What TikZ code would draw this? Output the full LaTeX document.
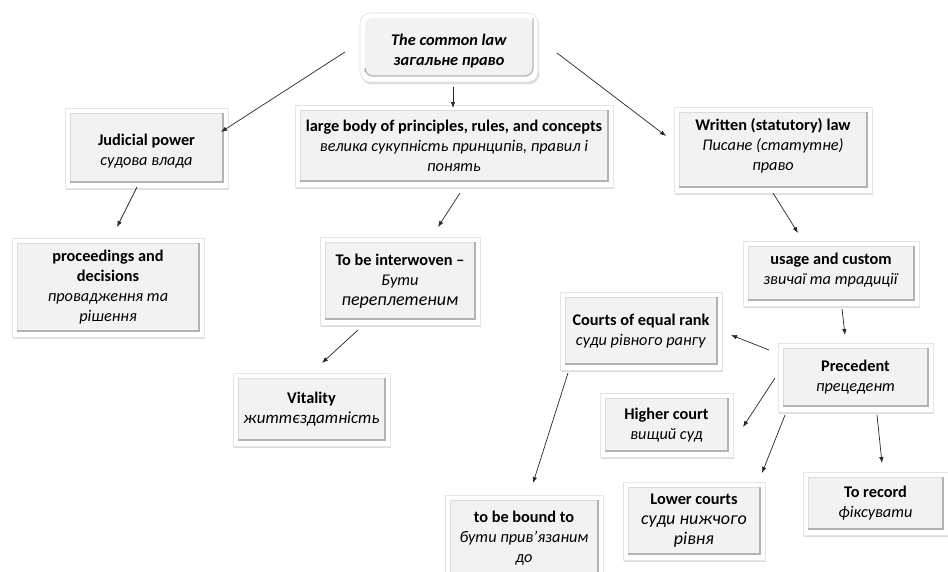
\documentclass[tikz,border=0pt]{standalone}
\usepackage{fontspec}
\setmainfont{Carlito}
\usetikzlibrary{shadows,arrows.meta}
\begin{document}
\begin{tikzpicture}[x=1pt,y=-1pt,
  bevbox/.style={rectangle, draw=black!10, line width=0.6pt, fill=white, align=center, inner sep=0pt,
    font=\fontsize{16.3}{20}\selectfont,
    drop shadow={shadow xshift=1.2pt, shadow yshift=-2.2pt, fill=black, opacity=0.14},
    path picture={
      \fill[black!5] ([xshift=5pt,yshift=6pt]path picture bounding box.south west) rectangle ([xshift=-5pt,yshift=-5pt]path picture bounding box.north east);
      \draw[black!14, line width=0.6pt] ([xshift=5pt,yshift=6pt]path picture bounding box.south west) -- ([xshift=5pt,yshift=-5pt]path picture bounding box.north west) -- ([xshift=-5pt,yshift=-5pt]path picture bounding box.north east);
      \draw[black!30, line width=1.4pt] ([xshift=5pt,yshift=6pt]path picture bounding box.south west) -- ([xshift=-5pt,yshift=6pt]path picture bounding box.south east) -- ([xshift=-5pt,yshift=-5pt]path picture bounding box.north east);
    }},
  roundbox/.style={rectangle, rounded corners=10pt, draw=black!12, line width=0.6pt, fill=white, align=center, inner sep=0pt,
    font=\fontsize{16.3}{20}\selectfont,
    drop shadow={shadow xshift=1.2pt, shadow yshift=-2.2pt, fill=black, opacity=0.14},
    path picture={
      \fill[black!5, rounded corners=8pt] ([xshift=5pt,yshift=6pt]path picture bounding box.south west) rectangle ([xshift=-5pt,yshift=-5pt]path picture bounding box.north east);
      \draw[black!28, line width=1.3pt, rounded corners=8pt] ([xshift=5pt,yshift=10pt]path picture bounding box.south west) -- ([xshift=5pt,yshift=6pt]path picture bounding box.south west) -- ([xshift=-5pt,yshift=6pt]path picture bounding box.south east) -- ([xshift=-5pt,yshift=-5pt]path picture bounding box.north east);
    }},
  txt/.style={align=center, inner sep=0pt, font=\fontsize{16.3}{20}\selectfont},
  conn/.style={draw=black!85, line width=0.7pt, -{Latex[length=6pt,width=4.5pt]}}]
\useasboundingbox (0,0) rectangle (948,571);

% boxes
\node[roundbox, minimum width=178pt, minimum height=69pt] (top) at (449,47.5) {};
\node[txt] (topt) at (449,51.5) {\textbf{\textit{The common law}}\\ \textbf{\textit{загальне право}}};
\node[bevbox, minimum width=163pt, minimum height=80pt] (jud) at (146.5,148) {};
\node[txt] (judt) at (146.5,151) {\textbf{Judicial power}\\ \textit{судова влада}};
\node[bevbox, minimum width=318pt, minimum height=82pt] (large) at (454,146) {\textbf{large body of principles, rules, and concepts}\\ \textit{велика сукупність принципів, правил і}\\ \textit{понять}};
\node[bevbox, minimum width=198pt, minimum height=86pt] (writ) at (773,150) {};
\node[txt] (writt) at (773,146) {\textbf{Written (statutory) law}\\ \textit{Писане (статутне)}\\ \textit{право}};
\node[bevbox, minimum width=192pt, minimum height=99pt] (proc) at (108,287.5) {\textbf{proceedings and}\\ \textbf{decisions}\\ \textit{провадження та}\\ \textit{рішення}};
\node[bevbox, minimum width=160pt, minimum height=88pt] (inter) at (400,281) {\textbf{To be interwoven –}\\ \textit{Бути}\\ {\fontsize{18}{20}\selectfont\textit{переплетеним}}};
\node[bevbox, minimum width=157pt, minimum height=73pt] (vit) at (311.5,409.5) {\textbf{Vitality}\\ {\fontsize{17}{20}\selectfont\textit{життєздатність}}};
\node[bevbox, minimum width=176pt, minimum height=65pt] (usage) at (831,273.5) {};
\node[txt] (usaget) at (831,270) {\textbf{usage and custom}\\ \textit{звичаї та традиції}};
\node[bevbox, minimum width=162pt, minimum height=78pt] (equal) at (641,331) {\textbf{Courts of equal rank}\\ \textit{суди рівного рангу}};
\node[bevbox, minimum width=155pt, minimum height=69pt] (prec) at (855.5,377.5) {\textbf{Precedent}\\ \textit{прецедент}};
\node[bevbox, minimum width=133pt, minimum height=64pt] (high) at (666.5,425) {\textbf{Higher court}\\ \textit{вищий суд}};
\node[bevbox, minimum width=142pt, minimum height=78pt] (low) at (694,521) {\textbf{Lower courts}\\ {\fontsize{18}{22}\selectfont\textit{суди нижчого}}\\ {\fontsize{18}{18}\selectfont\textit{рівня}}};
\node[bevbox, minimum width=145pt, minimum height=63pt] (rec) at (875.5,503.5) {\textbf{To record}\\ \textit{фіксувати}};
\node[bevbox, minimum width=158pt, minimum height=86pt] (bound) at (524,538) {\textbf{to be bound to}\\ \textit{бути прив’язаним}\\ \textit{до}};

% connector end points
\coordinate (t1s) at (345,52);  \coordinate (t1e) at (221,132);
\coordinate (t2s) at (453,87);  \coordinate (t2e) at (453,108);
\coordinate (t3s) at (557,53);  \coordinate (t3e) at (666,136);
\coordinate (j1s) at (137,187); \coordinate (j1e) at (117,227);
\coordinate (l1s) at (460,193); \coordinate (l1e) at (438,227);
\coordinate (i1s) at (358,330); \coordinate (i1e) at (322,363);
\coordinate (w1s) at (773,193); \coordinate (w1e) at (798,233);
\coordinate (u1s) at (842,309); \coordinate (u1e) at (845,335);
\coordinate (p1s) at (769,350); \coordinate (p1e) at (731,335);
\coordinate (p2s) at (775,378); \coordinate (p2e) at (743,427);
\coordinate (p3s) at (785,415); \coordinate (p3e) at (762,473);
\coordinate (p4s) at (877,415); \coordinate (p4e) at (882,463);
\coordinate (e1s) at (568,373); \coordinate (e1e) at (533,483);

% connectors
\draw[conn] (t1s) -- (t1e);
\draw[conn] (t2s) -- (t2e);
\draw[conn] (t3s) -- (t3e);
\draw[conn] (j1s) -- (j1e);
\draw[conn] (l1s) -- (l1e);
\draw[conn] (i1s) -- (i1e);
\draw[conn] (w1s) -- (w1e);
\draw[conn] (u1s) -- (u1e);
\draw[conn] (p1s) -- (p1e);
\draw[conn] (p2s) -- (p2e);
\draw[conn] (p3s) -- (p3e);
\draw[conn] (p4s) -- (p4e);
\draw[conn] (e1s) -- (e1e);
\end{tikzpicture}
\end{document}
